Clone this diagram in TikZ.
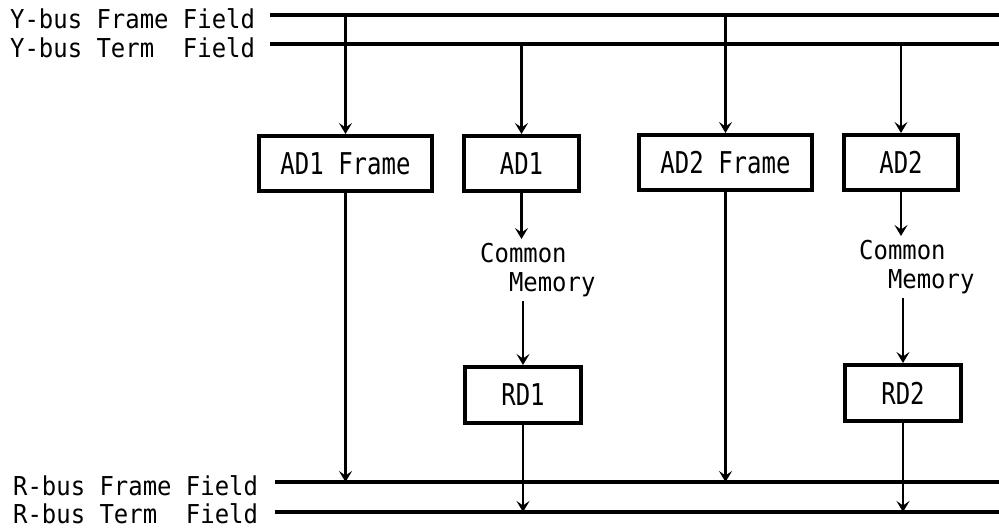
\documentclass[tikz,border=0pt]{standalone}
\usepackage{fontspec}
\usetikzlibrary{arrows.meta}
\newfontfamily\labfont[FakeStretch=0.92]{DejaVu Sans Mono}
\newfontfamily\boxfont[FakeStretch=0.8]{DejaVu Sans Mono}
\begin{document}
\begin{tikzpicture}[x=1pt,y=-1pt,
  bus/.style={line width=4pt},
  unitbox/.style={draw, line width=4pt, minimum height=55pt, inner sep=0pt,
    font=\boxfont\fontsize{30}{34}\selectfont},
  buslabel/.style={anchor=base west, inner sep=0pt, font=\labfont\fontsize{26}{29}\selectfont},
  memtext/.style={anchor=north west, align=left, inner xsep=0pt, inner ysep=4pt,
    font=\labfont\fontsize{26}{29}\selectfont},
  arr/.style={line width=2.2pt, -{Stealth[length=11pt,width=13pt,inset=4.5pt]}}]
\fill[white] (0,0) rectangle (999,531);
\useasboundingbox (0,0) rectangle (999,531);

% bus labels
\node[buslabel] (lyf) at (10,28) {Y-bus Frame Field};
\node[buslabel] (lyt) at (10,57) {Y-bus Term\ \ Field};
\node[buslabel] (lrf) at (13,495) {R-bus Frame Field};
\node[buslabel] (lrt) at (13,523) {R-bus Term\ \ Field};

% bus lines
\coordinate (yfL) at (270,15);  \coordinate (yfR) at (999,15);
\coordinate (ytL) at (270,44);  \coordinate (ytR) at (999,44);
\coordinate (rfL) at (275,482); \coordinate (rfR) at (999,482);
\coordinate (rtL) at (275,512); \coordinate (rtR) at (999,512);
\draw[bus] (yfL) -- (yfR);
\draw[bus] (ytL) -- (ytR);
\draw[bus] (rfL) -- (rfR);
\draw[bus] (rtL) -- (rtR);

% boxes
\node[unitbox, minimum width=173pt] (ad1f) at (345.5,163.5) {AD1 Frame};
\node[unitbox, minimum width=115pt] (ad1)  at (521.5,163.5) {AD1};
\node[unitbox, minimum width=173pt] (ad2f) at (725.5,162.5) {AD2 Frame};
\node[unitbox, minimum width=114pt] (ad2)  at (901,162.5) {AD2};
\node[unitbox, minimum width=116pt, minimum height=56pt] (rd1) at (523,395) {RD1};
\node[unitbox, minimum width=116pt, minimum height=56pt] (rd2) at (903,393) {RD2};

% common memory labels
\node[memtext] (cm1) at (480,239) {Common\\\phantom{Co}Memory};
\node[memtext] (cm2) at (859,236) {Common\\\phantom{Co}Memory};

% connectors
\draw[arr] (ad1f.center |- yfL) -- (ad1f.north);
\draw[arr] (ad1.center |- ytL) -- (ad1.north);
\draw[arr] (ad2f.center |- yfL) -- (ad2f.north);
\draw[arr] (ad2.center |- ytL) -- (ad2.north);
\draw[arr] (ad1f.south) -- (ad1f.south |- rfL);
\draw[arr] (ad2f.south) -- (ad2f.south |- rfL);
\draw[arr] (ad1.south) -- (ad1.south |- cm1.north);
\draw[arr] (ad2.south) -- (ad2.south |- cm2.north);
\draw[arr] (rd1.north |- cm1.south) -- (rd1.north);
\draw[arr] (rd2.north |- cm2.south) -- (rd2.north);
\draw[arr] (rd1.south) -- (rd1.south |- rtL);
\draw[arr] (rd2.south) -- (rd2.south |- rtL);
\end{tikzpicture}
\end{document}
